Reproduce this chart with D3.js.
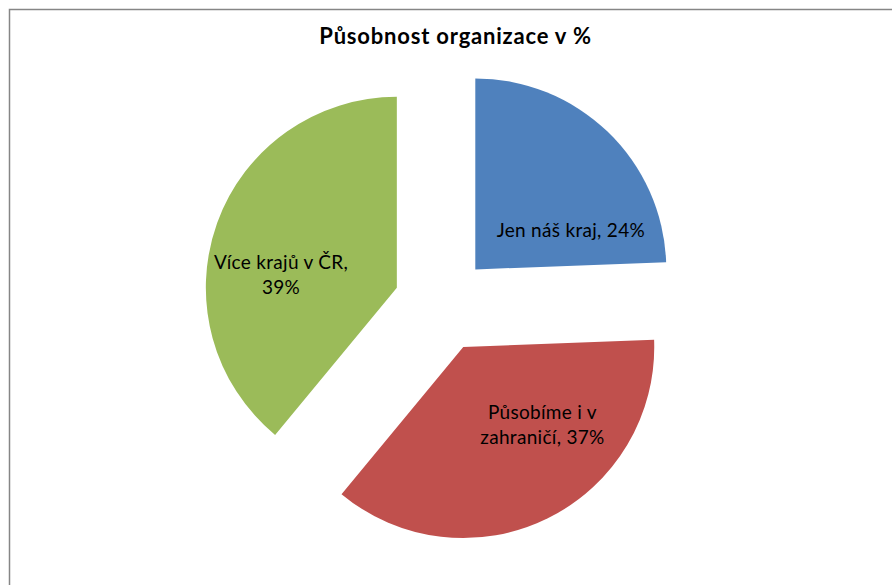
<!DOCTYPE html>
<html>
<head>
<meta charset="utf-8">
<script src="https://cdn.jsdelivr.net/npm/d3@7/dist/d3.min.js"></script>
<style>
  html, body { margin: 0; padding: 0; background: #fff; }
  svg { display: block; }
</style>
</head>
<body>
<svg id="chart" width="892" height="585"></svg>
<script>
const title = "Působnost organizace v %";
const categories = ["Jen náš kraj", "Působíme i v zahraničí", "Více krajů v ČR"];
const values = [24.4, 36.6, 39.0];
const labelLines = [["Jen náš kraj, 24%"], ["Působíme i v", "zahraničí, 37%"], ["Více krajů v ČR,", "39%"]];
const colors = ["#4F81BD", "#C0504D", "#9BBB59"];

const svg = d3.select("#chart");
const W = 892, H = 585;
const font = "Lato, 'Carlito', Calibri, 'Open Sans', sans-serif";

svg.append("rect").attr("x", 9.5).attr("y", 9.5).attr("width", W + 20).attr("height", H + 20)
  .attr("fill", "#fff").attr("stroke", "#868686").attr("stroke-width", 1.5);

svg.append("text").attr("x", 455.5).attr("y", 43.5).attr("text-anchor", "middle")
  .attr("font-family", font).attr("font-weight", "bold").attr("font-size", 22)
  .attr("letter-spacing", 0.8)
  .attr("fill", "#000").text(title);

const cx = 442, cy = 304, R = 191, explode = 48;
const pie = d3.pie().sort(null).value(d => d)(values);
const arc = d3.arc().innerRadius(0).outerRadius(R);

const g = svg.append("g").attr("transform", `translate(${cx},${cy})`);
const slices = g.selectAll("g.slice").data(pie).enter().append("g")
  .attr("class", "slice")
  .attr("transform", d => {
    const a = (d.startAngle + d.endAngle) / 2;
    return `translate(${explode * Math.sin(a)},${-explode * Math.cos(a)})`;
  });

slices.append("path").attr("d", arc).attr("fill", (d, i) => colors[i]);

// label block centres relative to each slice's tip (layout constants)
const labelOffset = [[95.6, -39], [79.2, 77.5], [-115.8, -13.2]];
slices.each(function (d, i) {
  const [x, y] = labelOffset[i];
  const lines = labelLines[i];
  const lh = 25.5;
  const t = d3.select(this).append("text")
    .attr("text-anchor", "middle")
    .attr("font-family", font).attr("font-size", 19).attr("letter-spacing", 0.3)
    .attr("fill", "#000");
  lines.forEach((ln, k) => {
    t.append("tspan").attr("x", x)
      .attr("y", y + (k - (lines.length - 1) / 2) * lh + 7)
      .text(ln);
  });
});
</script>
</body>
</html>
